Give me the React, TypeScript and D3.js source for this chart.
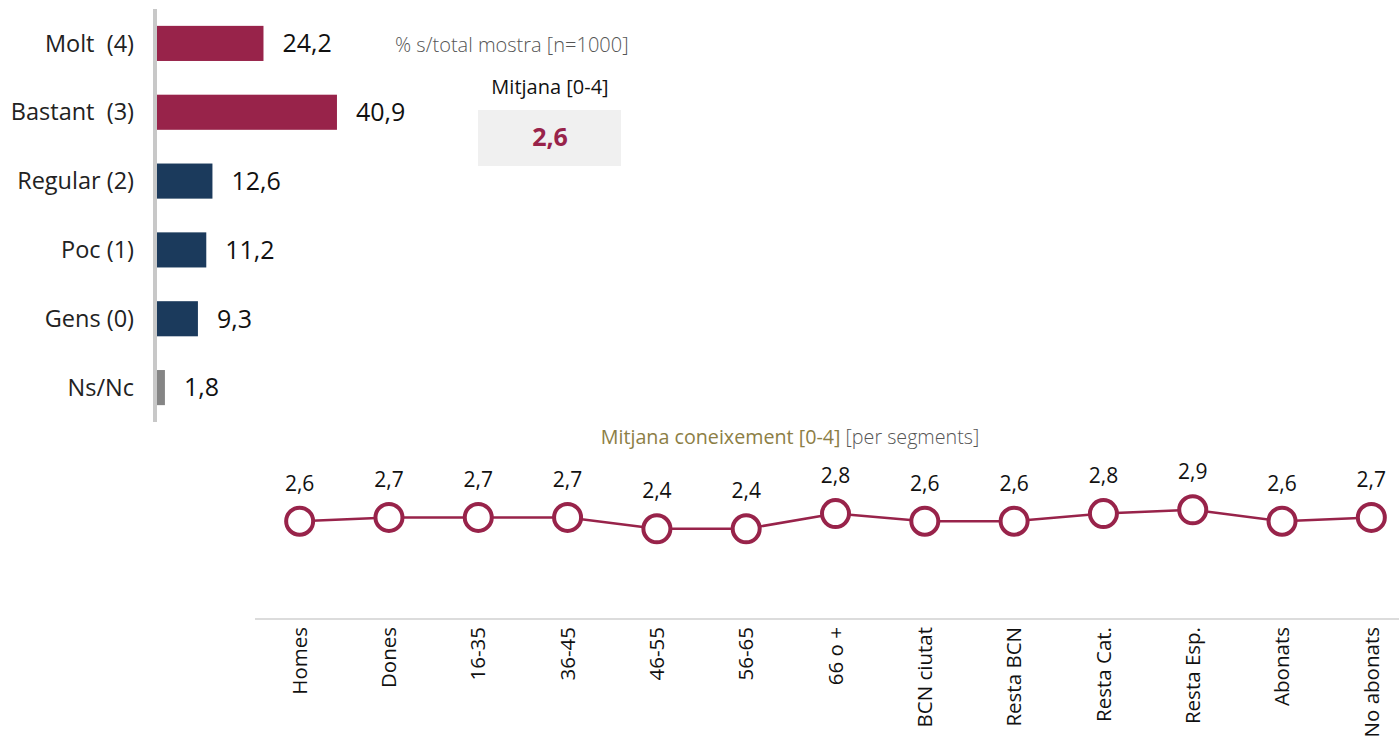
import React from "react";
import * as d3 from "d3";

const barCategories = ["Molt  (4)", "Bastant  (3)", "Regular (2)", "Poc (1)", "Gens (0)", "Ns/Nc"];
const barValues = [24.2, 40.9, 12.6, 11.2, 9.3, 1.8];
const barGroups = ["pos", "pos", "neg", "neg", "neg", "na"];

const segments = ["Homes", "Dones", "16-35", "36-45", "46-55", "56-65", "66 o +", "BCN ciutat", "Resta BCN", "Resta Cat.", "Resta Esp.", "Abonats", "No abonats"];
const segmentMeans = [2.6, 2.7, 2.7, 2.7, 2.4, 2.4, 2.8, 2.6, 2.6, 2.8, 2.9, 2.6, 2.7];

const overallMean = 2.6;

const colorMap: Record<string, string> = { pos: "#98234a", neg: "#1b3a5c", na: "#858585" };
const LINE = "#98234a";
const FONT = "'Open Sans', sans-serif";

const fmt = (v: number) => v.toFixed(1).replace(".", ",");

export default function App() {
  const W = 1399, H = 737;
  const yBar = d3.scaleBand<string>().domain(barCategories).range([9, 422]).paddingInner(0.49).paddingOuter(0.245);
  const xBar = d3.scaleLinear().domain([0, 100]).range([157, 597]);

  const xSeg = d3.scaleBand<string>().domain(segments).range([255, 1416]);
  const ySeg = d3.scaleLinear().domain([0, 4]).range([620, 468]);
  const line = d3.line<number>()
    .x((_, i) => (xSeg(segments[i]) as number) + xSeg.bandwidth() / 2)
    .y((d) => ySeg(d));

  return (
    <svg width={W} height={H} style={{ position: "absolute", left: 0, top: 0, fontFamily: FONT }}>
      {/* bar chart */}
      <line x1={155} x2={155} y1={9} y2={422} stroke="#c8c8c8" strokeWidth={4} />
      {barCategories.map((c, i) => {
        const y = yBar(c) as number;
        const bw = yBar.bandwidth();
        return (
          <g key={c}>
            <rect x={xBar(0)} y={y} width={xBar(barValues[i]) - xBar(0)} height={bw} fill={colorMap[barGroups[i]]} />
            <text x={134} y={y + bw / 2} dy="0.35em" textAnchor="end" fontSize={23.5} fill="#222" style={{ whiteSpace: "pre" }}>{c}</text>
            <text x={xBar(barValues[i]) + 19} y={y + bw / 2} dy="0.35em" fontSize={25} fontWeight={500} fill="#111">{fmt(barValues[i])}</text>
          </g>
        );
      })}
      <text x={395} y={45} dy="0.35em" fontSize={20} fontWeight={300} fill="#555">% s/total mostra [n=1000]</text>
      <text x={550} y={87} dy="0.35em" textAnchor="middle" fontSize={20} fill="#111">Mitjana [0-4]</text>
      <rect x={478} y={110} width={143} height={56} fill="#f0f0f0" />
      <text x={550} y={137} dy="0.35em" textAnchor="middle" fontSize={25} fontWeight={700} fill={LINE}>{fmt(overallMean)}</text>

      {/* segments line chart */}
      <text x={790} y={437} dy="0.35em" textAnchor="middle" fontSize={19.7}>
        <tspan fill="#8c7e45">Mitjana coneixement [0-4]</tspan>
        <tspan fill="#555" fontWeight={300}> [per segments]</tspan>
      </text>
      <line x1={255} x2={1416} y1={619} y2={619} stroke="#dcdcdc" strokeWidth={2} />
      <path d={line(segmentMeans) || ""} fill="none" stroke={LINE} strokeWidth={2.5} />
      {segments.map((s, i) => {
        const cx = (xSeg(s) as number) + xSeg.bandwidth() / 2;
        const cy = ySeg(segmentMeans[i]);
        return (
          <g key={s}>
            <circle cx={cx} cy={cy} r={13.5} fill="#fff" stroke={LINE} strokeWidth={4} />
            <text x={cx} y={cy - 38} dy="0.35em" textAnchor="middle" fontSize={21} fill="#111">{fmt(segmentMeans[i])}</text>
            <text transform={`translate(${cx},627) rotate(-90)`} dy="0.35em" textAnchor="end" fontSize={20.5} fill="#111">{s}</text>
          </g>
        );
      })}
    </svg>
  );
}
